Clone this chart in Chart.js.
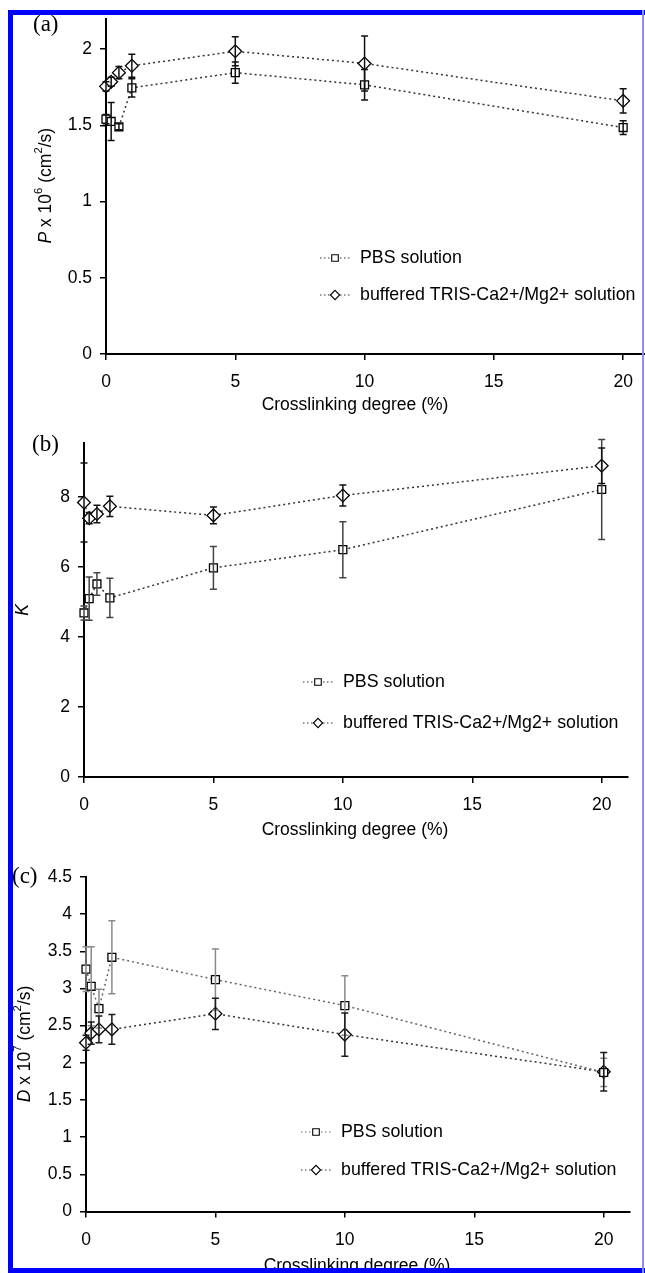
<!DOCTYPE html>
<html>
<head>
<meta charset="utf-8">
<script src="https://cdn.jsdelivr.net/npm/chart.js@4.4.0/dist/chart.umd.min.js"></script>
<style>
html,body{margin:0;padding:0;background:#fff;overflow:hidden;width:645px;height:1273px;position:relative;}
.panel{position:absolute;left:0;}
.bar{position:absolute;}
</style>
</head>
<body>
<canvas id="ca" class="panel" width="660" height="420" style="top:0px"></canvas>
<canvas id="cb" class="panel" width="660" height="430" style="top:420px"></canvas>
<canvas id="cc" class="panel" width="660" height="423" style="top:850px"></canvas>
<div class="bar" style="left:8px;top:10px;width:5px;height:1263px;background:#0000ff"></div>
<div class="bar" style="left:8px;top:10px;width:637px;height:4.5px;background:#0000ff"></div>
<div class="bar" style="left:8px;top:1268px;width:637px;height:5px;background:#0000ff"></div>
<div class="bar" style="left:642px;top:10px;width:1.5px;height:1263px;background:#8c8cff"></div>
<script>
// ---------------- DATA ----------------
const crosslinking = [0, 0.2, 0.5, 1, 5, 10, 20];
const xTicks = [0, 5, 10, 15, 20];

// (a) permeability P x 10^6 (cm2/s)
const pbsP     = [1.54, 1.525, 1.49, 1.745, 1.845, 1.765, 1.485];
const pbsPErr  = [0.03, 0.125, 0.02, 0.06, 0.07, 0.10, 0.045];
const trisP    = [1.755, 1.785, 1.845, 1.89, 1.985, 1.905, 1.66];
const trisPErr = [0.03, 0.03, 0.04, 0.075, 0.095, 0.18, 0.08];
const pTicks   = [0, 0.5, 1, 1.5, 2];

// (b) partition coefficient K
const pbsK     = [4.69, 5.1, 5.52, 5.12, 5.98, 6.5, 8.22];
const pbsKErr  = [0.2, 0.62, 0.32, 0.56, 0.61, 0.8, 1.43];
const trisK    = [7.85, 7.4, 7.52, 7.74, 7.48, 8.05, 8.9];
const trisKErr = [1.13, 0.16, 0.25, 0.29, 0.24, 0.3, 0.51];
const kTicks   = [0, 2, 4, 6, 8];

// (c) diffusion coefficient D x 10^7 (cm2/s)
const pbsD     = [3.26, 3.03, 2.73, 3.42, 3.12, 2.77, 1.87];
const pbsDErr  = [0.3, 0.53, 0.26, 0.49, 0.41, 0.4, 0.19];
const trisD    = [2.27, 2.40, 2.45, 2.45, 2.66, 2.38, 1.88];
const trisDErr = [0.1, 0.15, 0.18, 0.2, 0.21, 0.29, 0.26];
const dTicks   = [0, 0.5, 1, 1.5, 2, 2.5, 3, 3.5, 4, 4.5];

const seriesNames = ['PBS solution', 'buffered TRIS-Ca2+/Mg2+ solution'];
const xTitle = 'Crosslinking degree (%)';

// ---------------- LAYOUT ----------------
const FONT = '"Liberation Sans", Arial, Helvetica, sans-serif';
const SERIF = '"Liberation Serif", "Times New Roman", serif';
const FS = 17.5;
const LFS = 17.8;

const panels = [
  { id:'ca', top:0, h:420, area:{left:106, top:17.4, right:649, bottom:354},
    yMax:2.2, yTicks:pTicks, series:[pbsP, trisP], errs:[pbsPErr, trisPErr],
    errColors:['#111','#111'], lineColors:['#333','#333'],
    yTitle:[{t:'P',it:true},{t:' x 10'},{t:'6',sup:true},{t:' (cm'},{t:'2',sup:true},{t:'/s)'}],
    yTitleX:46, yTitleY:185.7, label:'(a)', labelX:33, labelY:25,
    legendX:320, legendY:[258,295], xTitleX:355, xTitleY:405 },
  { id:'cb', top:420, h:430, area:{left:84, top:443, right:627.6, bottom:777},
    yMax:9.55, yTicks:kTicks, series:[pbsK, trisK], errs:[pbsKErr, trisKErr],
    errColors:['#444','#111'], lineColors:['#333','#333'],
    yTitle:[{t:'K',it:true}],
    yTitleX:23, yTitleY:610, label:'(b)', labelX:32, labelY:445,
    legendX:303, legendY:[682,723], xTitleX:355, xTitleY:830 },
  { id:'cc', top:850, h:423, area:{left:86, top:877, right:629.6, bottom:1211.5},
    yMax:4.5, yTicks:dTicks, series:[pbsD, trisD], errs:[pbsDErr, trisDErr],
    errColors:['#8a8a8a','#1a1a1a'], lineColors:['#666','#333'],
    yTitle:[{t:'D',it:true},{t:' x 10'},{t:'7',sup:true},{t:' (cm'},{t:'2',sup:true},{t:'/s)'}],
    yTitleX:25, yTitleY:1044, label:'(c)', labelX:12, labelY:877,
    legendX:301, legendY:[1132,1170], xTitleX:357, xTitleY:1266 }
];

function drawRich(ctx, parts, size) {
  const supSize = size * 0.65;
  let total = 0;
  parts.forEach(p => {
    ctx.font = (p.it ? 'italic ' : '') + (p.sup ? supSize : size) + 'px ' + FONT;
    p.w = ctx.measureText(p.t).width; total += p.w;
  });
  let x = -total / 2;
  ctx.textAlign = 'left'; ctx.textBaseline = 'middle';
  parts.forEach(p => {
    ctx.font = (p.it ? 'italic ' : '') + (p.sup ? supSize : size) + 'px ' + FONT;
    ctx.fillText(p.t, x, p.sup ? -size * 0.4 : 0);
    x += p.w;
  });
}

function legendRow(ctx, x0, y, style, text, lineColor) {
  ctx.save();
  ctx.strokeStyle = lineColor; ctx.lineWidth = 1.2; ctx.setLineDash([1.5, 2.5]);
  ctx.beginPath(); ctx.moveTo(x0, y); ctx.lineTo(x0 + 32, y); ctx.stroke();
  ctx.setLineDash([]);
  const mx = x0 + 15;
  ctx.fillStyle = '#fff'; ctx.strokeStyle = '#000'; ctx.lineWidth = 1.1;
  ctx.beginPath();
  if (style === 'rect') { ctx.rect(mx - 3.3, y - 3.3, 6.6, 6.6); }
  else { ctx.moveTo(mx - 4.6, y); ctx.lineTo(mx, y - 4.6); ctx.lineTo(mx + 4.6, y); ctx.lineTo(mx, y + 4.6); ctx.closePath(); }
  ctx.fill(); ctx.stroke();
  ctx.fillStyle = '#000'; ctx.font = LFS + 'px ' + FONT;
  ctx.textAlign = 'left'; ctx.textBaseline = 'middle';
  ctx.fillText(text, x0 + 40, y);
  ctx.restore();
}

const extraPlugin = {
  id: 'extra',
  afterDraw(chart) {
    const P = chart.options.plugins.extra.panel;
    const ctx = chart.ctx;
    const xs = chart.scales.x, ys = chart.scales.y;
    const off = P.top;
    ctx.save();
    // error bars
    chart.data.datasets.forEach((ds, i) => {
      const err = P.errs[i];
      ctx.strokeStyle = P.errColors[i]; ctx.lineWidth = 1.5;
      ds.data.forEach((pt, j) => {
        const px = xs.getPixelForValue(pt.x);
        const t = ys.getPixelForValue(pt.y + err[j]);
        const b = ys.getPixelForValue(pt.y - err[j]);
        ctx.beginPath();
        ctx.moveTo(px, t); ctx.lineTo(px, b);
        ctx.moveTo(px - 3.5, t); ctx.lineTo(px + 3.5, t);
        ctx.moveTo(px - 3.5, b); ctx.lineTo(px + 3.5, b);
        ctx.stroke();
      });
    });
    // x axis title
    ctx.fillStyle = '#000';
    ctx.font = FS + 'px ' + FONT; ctx.textAlign = 'center'; ctx.textBaseline = 'middle';
    ctx.fillText(xTitle, P.xTitleX, P.xTitleY - off);
    // y axis title
    ctx.save();
    ctx.translate(P.yTitleX, P.yTitleY - off);
    ctx.rotate(-Math.PI / 2);
    drawRich(ctx, P.yTitle.map(p => Object.assign({}, p)), FS);
    ctx.restore();
    // panel label
    ctx.font = '23px ' + SERIF; ctx.textAlign = 'left'; ctx.textBaseline = 'middle';
    ctx.fillText(P.label, P.labelX, P.labelY - off);
    // legend
    legendRow(ctx, P.legendX, P.legendY[0] - off, 'rect', seriesNames[0], P.lineColors[0]);
    legendRow(ctx, P.legendX, P.legendY[1] - off, 'diamond', seriesNames[1], P.lineColors[1]);
    ctx.restore();
  }
};

function makeChart(P) {
  const ar = { left: P.area.left, top: P.area.top - P.top, right: P.area.right, bottom: P.area.bottom - P.top };
  const W = 660, H = P.h;
  const styles = ['rect', 'rectRot'];
  const radii = [5.6, 6.4];
  const datasets = P.series.map((vals, i) => ({
    label: seriesNames[i],
    data: crosslinking.map((x, j) => ({ x: x, y: vals[j] })),
    showLine: true,
    borderColor: P.lineColors[i],
    borderWidth: 1.5,
    borderDash: [2, 3],
    pointStyle: styles[i],
    pointRadius: radii[i],
    pointBorderColor: '#000',
    pointBackgroundColor: '#fff',
    pointBorderWidth: 1.3,
    clip: false,
    tension: 0
  }));
  const tickFont = { family: FONT, size: FS };
  return new Chart(document.getElementById(P.id), {
    type: 'scatter',
    data: { datasets },
    options: {
      responsive: false, animation: false, devicePixelRatio: 1,
      layout: { padding: { left: 0, top: ar.top, right: W - ar.right, bottom: 0 } },
      plugins: { legend: { display: false }, tooltip: { enabled: false }, extra: { panel: P } },
      scales: {
        x: {
          type: 'linear', min: 0, max: 21,
          afterBuildTicks: s => { s.ticks = xTicks.map(v => ({ value: v })); },
          afterFit: s => { s.height = H - ar.bottom; },
          ticks: { color: '#000', font: tickFont, padding: 12, maxRotation: 0, autoSkip: false, callback: v => String(v) },
          grid: { display: true, drawOnChartArea: false, drawTicks: true, tickLength: 6, color: '#000', lineWidth: 1.5 },
          border: { display: true, color: '#000', width: 2 }
        },
        y: {
          type: 'linear', min: 0, max: P.yMax,
          afterBuildTicks: s => { s.ticks = P.yTicks.map(v => ({ value: v })); },
          afterFit: s => { s.width = ar.left; },
          ticks: { color: '#000', font: tickFont, padding: 8, autoSkip: false, callback: v => String(v) },
          grid: { display: true, drawOnChartArea: false, drawTicks: true, tickLength: 6, color: '#000', lineWidth: 1.5 },
          border: { display: true, color: '#000', width: 2 }
        }
      }
    },
    plugins: [extraPlugin]
  });
}

panels.forEach(makeChart);
</script>
</body>
</html>
